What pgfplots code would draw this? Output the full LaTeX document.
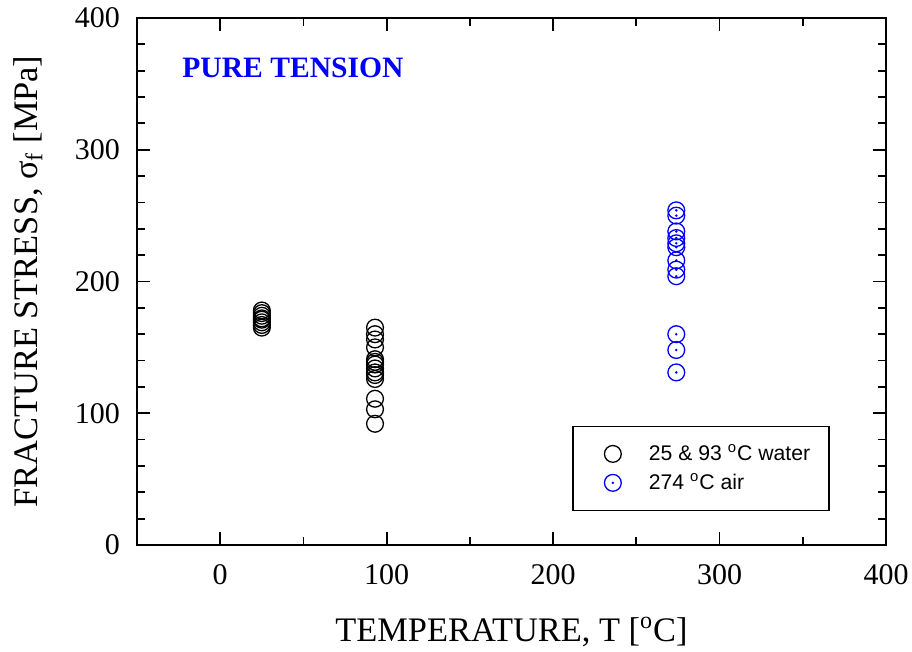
\documentclass[border=0pt]{standalone}
\usepackage{fontspec}
\setmainfont{Liberation Serif}
\newfontfamily\arialfont{Liberation Sans}
\usepackage{pgfplots}
\pgfplotsset{compat=1.18}

% circle with a dot in the middle
\pgfdeclareplotmark{odot}{%
  \pgfpathcircle{\pgfpoint{0pt}{0pt}}{\pgfplotmarksize}\pgfusepathqstroke
  \pgfpathcircle{\pgfpoint{0pt}{0pt}}{0.7pt}\pgfusepathqfill}

% wider legend cell, marker off-centre
\pgfplotsset{wideleg/.style={legend image code/.code={%
    \path[draw=none, fill=none] (0pt,-3pt) rectangle (28.5pt,3pt);
    \draw[##1, /tikz/only marks] plot coordinates {(12.5pt,0pt)};}}}

\begin{document}
\begin{tikzpicture}
\begin{axis}[
  name=ax,
  scale only axis,
  width=374.5pt, height=263.5pt,
  xmin=-50, xmax=400, ymin=0, ymax=400,
  xtick={0,100,...,400}, minor xtick={-50,50,...,350},
  ytick={0,100,...,400}, minor ytick={20,40,...,380},
  tick align=inside, xtick pos=both, ytick pos=both,
  major tick length=6.5pt, minor tick length=4pt,
  axis line style={line width=1pt},
  every tick/.style={black, line width=0.9pt},
  tick label style={font=\fontsize{15}{16}\selectfont},
  /pgf/number format/assume math mode=true,
  xticklabel style={yshift=-6pt},
  yticklabel style={xshift=-5pt},
  xlabel={TEMPERATURE, T [\textsuperscript{o}C]},
  ylabel={FRACTURE STRESS, σ\textsubscript{f} [MPa]},
  label style={font=\fontsize{17.2}{18}\selectfont},
  xlabel style={at={(axis description cs:0.5,-0.165)}, anchor=center},
  ylabel style={at={(axis description cs:-0.1455,0.5)}, anchor=center},
  legend style={at={(0.925,0.0645)}, anchor=south east, draw=black, line width=0.7pt,
    font=\arialfont\fontsize{10.6}{12}\selectfont, inner xsep=7.5pt, inner ysep=7pt,
    row sep=1pt},
  legend cell align=left,
]
\addplot[only marks, wideleg, mark=o, mark size=4.2pt, black, line width=0.65pt] coordinates {
  (25,165) (25,167) (25,169) (25,171) (25,172) (25,174) (25,176) (25,178)
  (93,165) (93,160) (93,156) (93,150) (93,141) (93,139) (93,137) (93,134)
  (93,131) (93,129) (93,126) (93,111) (93,103) (93,92)
};
\addplot[only marks, wideleg, mark=odot, mark size=4.2pt, blue, line width=0.65pt] coordinates {
  (274,254) (274,250) (274,238) (274,233) (274,229) (274,226) (274,216)
  (274,209) (274,204) (274,160) (274,148) (274,131)
};
\legend{25 \& 93 \textsuperscript{o}C water, 274 \textsuperscript{o}C air}
\node[anchor=west, text=blue, font=\bfseries\fontsize{14.8}{16}\selectfont]
  at (axis cs:-27,362) {PURE TENSION};
\end{axis}
\pgfresetboundingbox
\path[use as bounding box] ([xshift=-68.5pt,yshift=-53pt]ax.south west)
  rectangle ([xshift=13pt,yshift=9pt]ax.north east);
\end{tikzpicture}
\end{document}
